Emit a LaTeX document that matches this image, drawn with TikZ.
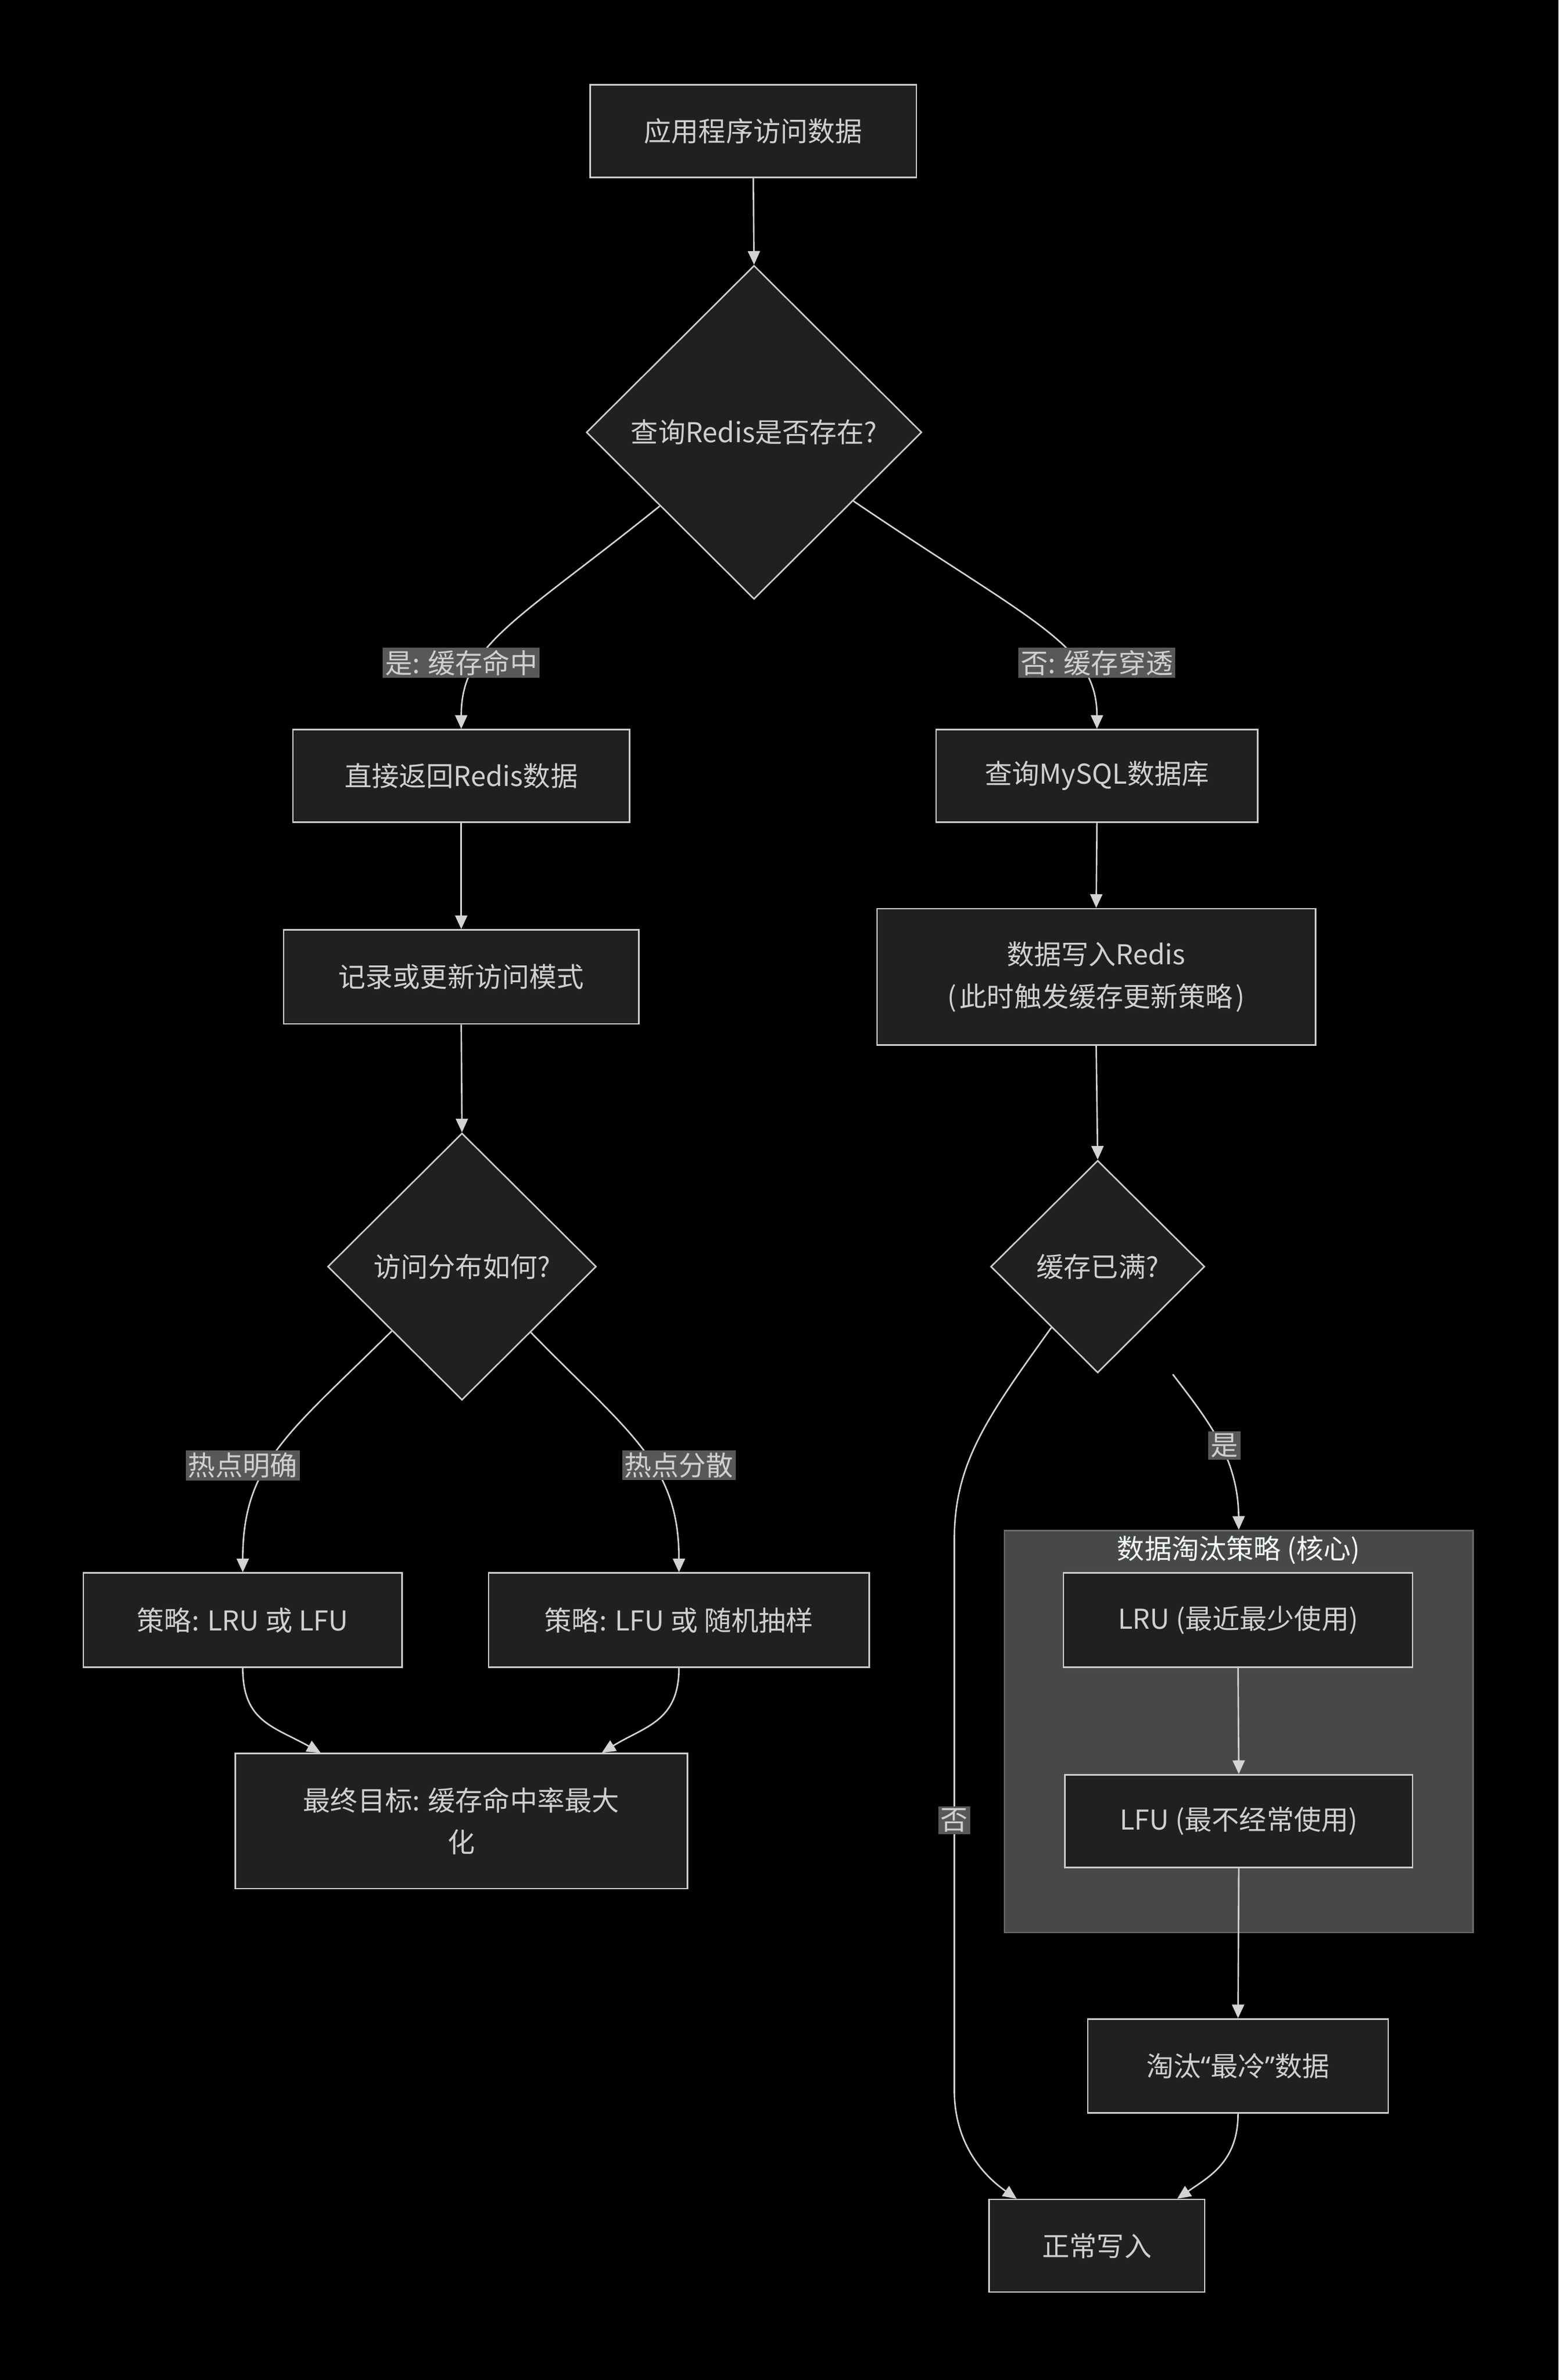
\documentclass[tikz,border=0pt]{standalone}
\usepackage{fontspec}
\setmainfont{Noto Sans CJK SC}
\newfontfamily\latinfont{Noto Sans}
\usetikzlibrary{shapes.geometric,arrows.meta,calc}
\definecolor{bgcol}{HTML}{000000}
\definecolor{nodefill}{HTML}{1F2020}
\definecolor{nodestroke}{HTML}{CCCCCC}
\definecolor{nodetext}{HTML}{D0D0D0}
\definecolor{edgecol}{HTML}{D3D3D3}
\definecolor{labelbg}{HTML}{585858}
\definecolor{clusterfill}{HTML}{474949}
\definecolor{clusterstroke}{HTML}{6A6C6C}
\definecolor{titletext}{HTML}{F4F8F7}
\newcommand{\nfont}{\fontsize{18}{27.5}\selectfont}
\newcommand{\myLq}{{\latinfont “}}
\newcommand{\myRq}{{\latinfont ”}}
\tikzset{
  box/.style={rectangle, draw=nodestroke, fill=nodefill, line width=1pt, text=nodetext, font=\nfont, inner sep=0pt, align=center},
  dia/.style={diamond, draw=nodestroke, fill=nodefill, line width=1pt, text=nodetext, font=\nfont, inner sep=0pt, align=center},
  elabel/.style={rectangle, fill=labelbg, text=nodetext, font=\nfont, inner sep=1.5pt},
  conn/.style={draw=edgecol, line width=1pt, -{Triangle[length=9pt,width=8pt]}},
  clusterbox/.style={rectangle, draw=clusterstroke, fill=clusterfill, line width=1pt, inner sep=0pt}
}
\begin{document}
\begin{tikzpicture}[x=1pt,y=-1pt]
\fill[bgcol] (0,0) rectangle (1027.2,1569);
\useasboundingbox (0,0) rectangle (1027.2,1569);

% cluster
\node[clusterbox, minimum width=309pt, minimum height=265pt] (clu) at (816.5,1141.5) {};
\node[text=titletext, font=\nfont, inner sep=0pt] (clutitle) at (816.5,1022) {数据淘汰策略 (核心)};

% nodes
\node[box, minimum width=215pt, minimum height=61pt] (app) at (496.5,86.5) {应用程序访问数据};
\node[dia, minimum width=221pt, minimum height=220pt] (d1) at (497,285) {查询Redis是否存在?};
\node[box, minimum width=222pt, minimum height=61pt] (hit) at (304,511.5) {直接返回Redis数据};
\node[box, minimum width=212pt, minimum height=61pt] (miss) at (723,511.5) {查询MySQL数据库};
\node[box, minimum width=234pt, minimum height=62pt] (rec) at (304,644) {记录或更新访问模式};
\node[box, minimum width=289pt, minimum height=90pt] (write) at (722.5,644) {数据写入Redis\\(\kern2pt此时触发缓存更新策略\kern2pt)};
\node[dia, minimum width=177pt, minimum height=176pt] (d2) at (304.5,835) {访问分布如何?};
\node[dia, minimum width=141pt, minimum height=140pt] (d3) at (723.5,835) {缓存已满?};
\node[box, minimum width=210pt, minimum height=62pt] (lrulfu) at (160,1068) {策略: LRU 或 LFU};
\node[box, minimum width=251pt, minimum height=62pt] (lfurand) at (447.5,1068) {策略: LFU 或 随机抽样};
\node[box, minimum width=298pt, minimum height=89pt] (goal) at (304,1200.5) {最终目标: 缓存命中率最大\\化};
\node[box, minimum width=230pt, minimum height=62pt] (lru) at (816,1068) {LRU (最近最少使用)};
\node[box, minimum width=229pt, minimum height=61pt] (lfu) at (816.5,1200.5) {LFU (最不经常使用)};
\node[box, minimum width=198pt, minimum height=62pt] (evict) at (816,1362) {淘汰\myLq 最冷\myRq 数据};
\node[box, minimum width=142pt, minimum height=61pt] (normal) at (723,1480.5) {正常写入};

\coordinate (d3yes) at (773,906);

% connectors
\draw[conn] (app.south) -- (d1.north);
\draw[conn] ($(d1.west)!0.44!(d1.south)$) .. controls (340,410) and (304,425) .. (hit.north);
\draw[conn] ($(d1.east)!0.41!(d1.south)$) .. controls (680,410) and (723,425) .. (miss.north);
\draw[conn] (hit.south) -- (rec.north);
\draw[conn] (rec.south) -- (d2.north);
\draw[conn] (miss.south) -- (write.north);
\draw[conn] (write.south) -- (d3.north);
\draw[conn] ($(d2.west)!0.48!(d2.south)$) .. controls (190,945) and (160,965) .. (lrulfu.north);
\draw[conn] ($(d2.east)!0.49!(d2.south)$) .. controls (415,945) and (447.5,965) .. (lfurand.north);
\draw[conn] (lrulfu.south) .. controls (160,1135) and (180,1138) .. ($(goal.north west)!0.19!(goal.north east)$);
\draw[conn] (lfurand.south) .. controls (447.5,1135) and (425,1138) .. ($(goal.north west)!0.81!(goal.north east)$);
\draw[conn] ($(d3.west)!0.57!(d3.south)$) .. controls (650,935) and (629,965) .. (629,1015) -- (629,1378) .. controls (629,1410) and (645,1432) .. ($(normal.north west)!0.13!(normal.north east)$);
\draw[conn] (d3yes) .. controls (795,935) and (816,960) .. (clu.north);
\draw[conn] (lru.south) -- (lfu.north);
\draw[conn] (lfu.south) -- (evict.north);
\draw[conn] (evict.south) .. controls (816,1425) and (797,1435) .. ($(normal.north west)!0.87!(normal.north east)$);

% edge labels
\node[elabel] (l1) at (304,437) {是: 缓存命中};
\node[elabel] (l2) at (723,437) {否: 缓存穿透};
\node[elabel] (l3) at (160,966) {热点明确};
\node[elabel] (l4) at (447.5,966) {热点分散};
\node[elabel] (l5) at (807,953) {是};
\node[elabel] (l6) at (629,1200) {否};
\end{tikzpicture}
\end{document}
